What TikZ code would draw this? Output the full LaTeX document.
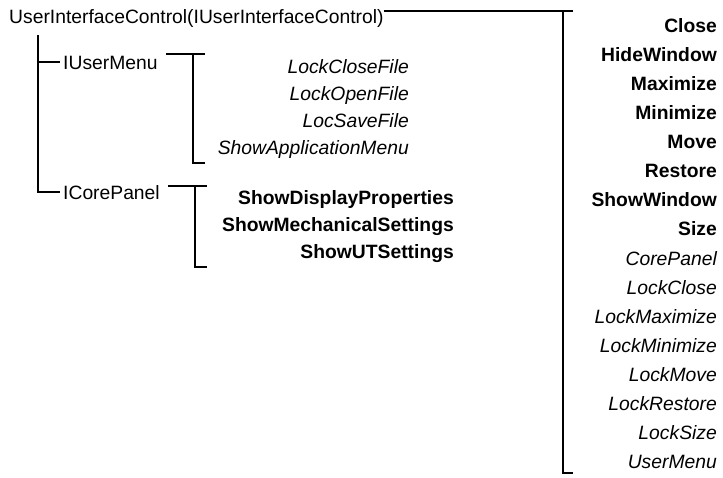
\documentclass[tikz,border=0pt]{standalone}
\usepackage{fontspec}
\setmainfont{Liberation Sans}
\begin{document}
\begin{tikzpicture}[x=1pt,y=-1pt,
  lbl/.style={inner sep=0pt, font=\fontsize{19.3}{23}\selectfont},
  itl/.style={inner sep=0pt, font=\fontsize{19.3}{23}\selectfont\itshape},
  bfl/.style={inner sep=0pt, font=\fontsize{19.3}{23}\selectfont\bfseries},
  ln/.style={line width=2pt}]
\useasboundingbox (0,0) rectangle (723,477);
% labels of the tree
\node[lbl, anchor=base west] (title) at (9,23) {UserInterfaceControl(IUserInterfaceControl)};
\node[lbl, anchor=base west] (um) at (63,69) {IUserMenu};
\node[lbl, anchor=base west] (cp) at (63,199) {ICorePanel};
% IUserMenu members
\foreach \t [count=\i] in {LockCloseFile,LockOpenFile,LocSaveFile,ShowApplicationMenu}
  \node[itl, anchor=base east] (m\i) at (409,{73+27*(\i-1)}) {\t};
% ICorePanel members
\foreach \t [count=\i] in {ShowDisplayProperties,ShowMechanicalSettings,ShowUTSettings}
  \node[bfl, anchor=base east] (c\i) at (454,{204+27*(\i-1)}) {\t};
% UserInterfaceControl members
\foreach \t [count=\i] in {Close,HideWindow,Maximize,Minimize,Move,Restore,ShowWindow,Size}
  \node[bfl, anchor=base east] (r\i) at (717,{32+29.13*(\i-1)}) {\t};
\foreach \t [count=\i from 9] in {CorePanel,LockClose,LockMaximize,LockMinimize,LockMove,LockRestore,LockSize,UserMenu}
  \node[itl, anchor=base east] (r\i) at (717,{32+29.13*(\i-1)}) {\t};
% bracket coordinates
\coordinate (tA) at (title.east |- 0,11);
\coordinate (tB) at (573,11);
\coordinate (tV) at (563,11);
\coordinate (tC) at (563,473);
\coordinate (tD) at (573,473);
\coordinate (uA) at (166,54);
\coordinate (uB) at (205,54);
\coordinate (uV) at (193,54);
\coordinate (uC) at (193,163);
\coordinate (uD) at (205,163);
\coordinate (pA) at (168,186);
\coordinate (pB) at (207,186);
\coordinate (pV) at (195,186);
\coordinate (pC) at (195,267);
\coordinate (pD) at (207,267);
\coordinate (root) at (38,35);
\coordinate (rU) at (38,62);
\coordinate (rC) at (38,192);
% connectors
\draw[ln] (tA) -- (tB);
\draw[ln] (tV) -- (tC) -- (tD);
\draw[ln] (uA) -- (uB);
\draw[ln] (uV) -- (uC) -- (uD);
\draw[ln] (pA) -- (pB);
\draw[ln] (pV) -- (pC) -- (pD);
\draw[ln] (root) -- (rC) -- ([xshift=-3pt]cp.west |- rC);
\draw[ln] (rU) -- ([xshift=-3pt]um.west |- rU);
\end{tikzpicture}
\end{document}
